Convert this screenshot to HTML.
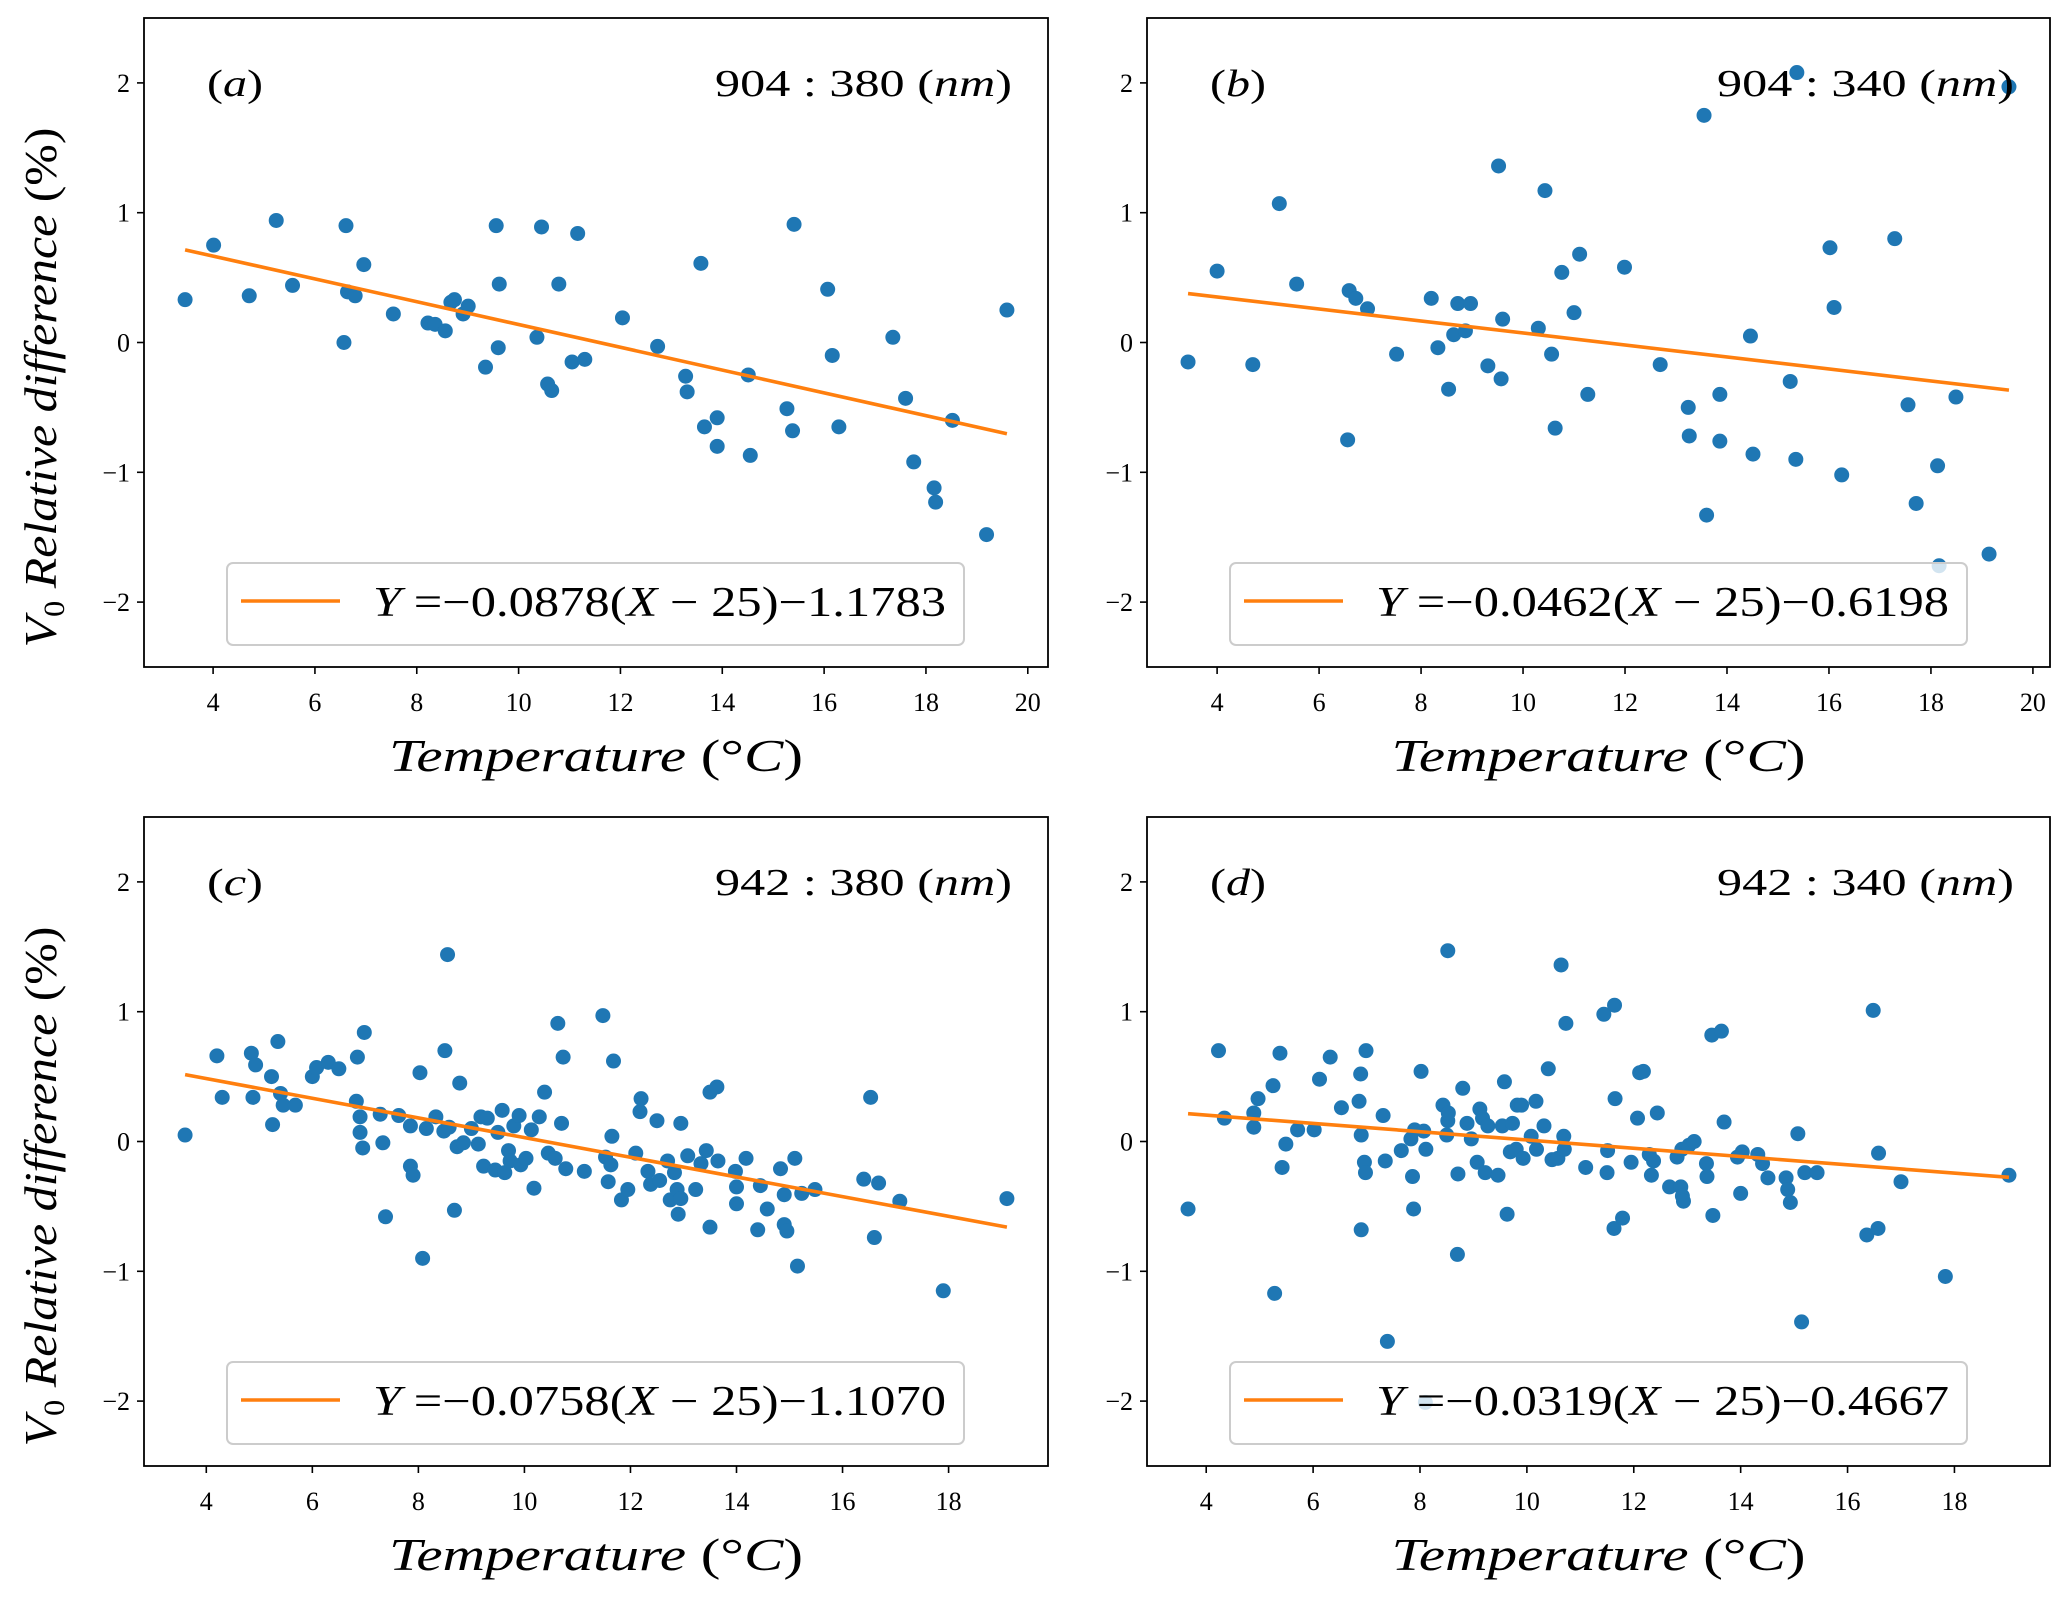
<!DOCTYPE html>
<html><head><meta charset="utf-8"><style>
body{margin:0;background:#fff}
svg{display:block;font-family:"Liberation Serif",serif}
</style></head><body>
<svg id="chart" width="2067" height="1603" viewBox="0 0 2067 1603" xmlns="http://www.w3.org/2000/svg"></svg>
<script>
const xA=[3.45,4.01,4.71,5.24,5.56,6.57,6.61,6.64,6.79,6.96,7.54,8.22,8.36,8.56,8.67,8.74,8.91,9.01,9.35,9.56,9.60,9.62,10.36,10.45,10.57,10.65,10.79,11.05,11.16,11.30,12.04,12.73,13.28,13.31,13.58,13.65,13.90,13.90,14.51,14.55,15.27,15.38,15.41,16.07,16.16,16.29,17.35,17.60,17.76,18.16,18.19,18.52,19.19,19.59];
const yA=[0.33,0.75,0.36,0.94,0.44,0.0,0.90,0.39,0.36,0.60,0.22,0.15,0.14,0.09,0.31,0.33,0.22,0.28,-0.19,0.90,-0.04,0.45,0.04,0.89,-0.32,-0.37,0.45,-0.15,0.84,-0.13,0.19,-0.03,-0.26,-0.38,0.61,-0.65,-0.58,-0.80,-0.25,-0.87,-0.51,-0.68,0.91,0.41,-0.10,-0.65,0.04,-0.43,-0.92,-1.12,-1.23,-0.60,-1.48,0.25];
const xB=[3.43,4.0,4.70,5.22,5.56,6.56,6.59,6.72,6.95,7.52,8.2,8.33,8.54,8.64,8.72,8.87,8.97,9.31,9.52,9.57,9.60,10.30,10.43,10.56,10.63,10.76,11.0,11.11,11.27,11.99,12.69,13.24,13.26,13.55,13.6,13.86,13.86,14.46,14.51,15.24,15.35,15.37,16.02,16.10,16.25,17.29,17.55,17.71,18.13,18.16,18.49,19.14,19.53];
const yB=[-0.15,0.55,-0.17,1.07,0.45,-0.75,0.40,0.34,0.26,-0.09,0.34,-0.04,-0.36,0.06,0.30,0.09,0.30,-0.18,1.36,-0.28,0.18,0.11,1.17,-0.09,-0.66,0.54,0.23,0.68,-0.40,0.58,-0.17,-0.50,-0.72,1.75,-1.33,-0.40,-0.76,0.05,-0.86,-0.30,-0.90,2.08,0.73,0.27,-1.02,0.80,-0.48,-1.24,-0.95,-1.72,-0.42,-1.63,1.97];
const xC=[3.6,4.2,4.3,4.85,4.88,4.93,5.23,5.25,5.35,5.40,5.45,5.68,6.0,6.08,6.3,6.5,6.83,6.85,6.9,6.9,6.95,6.98,7.28,7.33,7.38,7.63,7.85,7.85,7.9,8.03,8.08,8.15,8.33,8.48,8.5,8.55,8.58,8.68,8.73,8.78,8.85,9.0,9.13,9.18,9.23,9.3,9.45,9.5,9.58,9.63,9.7,9.73,9.8,9.9,9.93,10.03,10.13,10.18,10.28,10.38,10.45,10.58,10.63,10.7,10.73,10.78,11.13,11.48,11.53,11.58,11.63,11.65,11.68,11.83,11.95,12.1,12.18,12.2,12.33,12.38,12.5,12.55,12.7,12.75,12.83,12.88,12.9,12.95,12.95,13.08,13.23,13.33,13.43,13.5,13.5,13.63,13.65,13.98,14.0,14.0,14.18,14.4,14.45,14.58,14.83,14.9,14.9,14.95,15.1,15.15,15.23,15.48,16.4,16.53,16.6,16.68,17.08,17.9,19.1];
const yC=[0.05,0.66,0.34,0.68,0.34,0.59,0.50,0.13,0.77,0.37,0.28,0.28,0.50,0.57,0.61,0.56,0.31,0.65,0.07,0.19,-0.05,0.84,0.21,-0.01,-0.58,0.20,0.12,-0.19,-0.26,0.53,-0.90,0.10,0.19,0.08,0.70,1.44,0.11,-0.53,-0.04,0.45,-0.01,0.10,-0.02,0.19,-0.19,0.18,-0.22,0.07,0.24,-0.24,-0.07,-0.15,0.12,0.20,-0.18,-0.13,0.09,-0.36,0.19,0.38,-0.09,-0.13,0.91,0.14,0.65,-0.21,-0.23,0.97,-0.12,-0.31,-0.18,0.04,0.62,-0.45,-0.37,-0.09,0.23,0.33,-0.23,-0.33,0.16,-0.30,-0.15,-0.45,-0.24,-0.37,-0.56,0.14,-0.44,-0.11,-0.37,-0.17,-0.07,-0.66,0.38,0.42,-0.15,-0.23,-0.35,-0.48,-0.13,-0.68,-0.34,-0.52,-0.21,-0.41,-0.64,-0.69,-0.13,-0.96,-0.40,-0.37,-0.29,0.34,-0.74,-0.32,-0.46,-1.15,-0.44];
const xD=[3.66,4.23,4.34,4.89,4.89,4.97,5.25,5.28,5.38,5.42,5.49,5.71,6.02,6.12,6.32,6.53,6.86,6.89,6.9,6.9,6.96,6.98,6.99,7.31,7.35,7.39,7.65,7.83,7.86,7.88,7.9,8.02,8.07,8.11,8.1,8.43,8.5,8.52,8.52,8.53,8.7,8.71,8.8,8.88,8.96,9.07,9.12,9.17,9.22,9.27,9.46,9.54,9.58,9.63,9.69,9.73,9.8,9.82,9.9,9.93,10.08,10.17,10.18,10.32,10.4,10.47,10.58,10.64,10.69,10.7,10.73,11.1,11.44,11.5,11.51,11.63,11.64,11.65,11.79,11.95,12.07,12.11,12.18,12.29,12.33,12.37,12.44,12.67,12.81,12.88,12.9,12.91,12.93,13.03,13.13,13.36,13.37,13.46,13.48,13.64,13.69,13.94,14.0,14.03,14.32,14.41,14.51,14.85,14.88,14.93,15.07,15.14,15.2,15.43,16.36,16.48,16.57,16.58,17.0,17.83,19.02];
const yD=[-0.52,0.70,0.18,0.22,0.11,0.33,0.43,-1.17,0.68,-0.20,-0.02,0.09,0.09,0.48,0.65,0.26,0.31,0.52,0.05,-0.68,-0.16,-0.24,0.70,0.20,-0.15,-1.54,-0.07,0.02,-0.27,-0.52,0.09,0.54,0.08,-0.06,-2.01,0.28,0.05,1.47,0.16,0.22,-0.87,-0.25,0.41,0.14,0.02,-0.16,0.25,0.18,-0.24,0.12,-0.26,0.12,0.46,-0.56,-0.08,0.14,-0.06,0.28,0.28,-0.13,0.04,0.31,-0.06,0.12,0.56,-0.14,-0.13,1.36,0.04,-0.06,0.91,-0.20,0.98,-0.24,-0.07,-0.67,1.05,0.33,-0.59,-0.16,0.18,0.53,0.54,-0.10,-0.26,-0.15,0.22,-0.35,-0.12,-0.35,-0.06,-0.42,-0.46,-0.03,0.0,-0.17,-0.27,0.82,-0.57,0.85,0.15,-0.12,-0.40,-0.08,-0.10,-0.17,-0.28,-0.28,-0.37,-0.47,0.06,-1.39,-0.24,-0.24,-0.72,1.01,-0.67,-0.09,-0.31,-1.04,-0.26];
const slopes=[-0.0878,-0.0462,-0.0758,-0.0319];
const intercepts=[-1.1783,-0.6198,-1.1070,-0.4667];
const slopeLabels=["0.0878","0.0462","0.0758","0.0319"];
const interceptLabels=["1.1783","0.6198","1.1070","0.4667"];
const panelLetters=["a","b","c","d"];
const ratioLabels=["904 :  380","904 :  340","942 :  380","942 :  340"];
const xTicksTop=[4,6,8,10,12,14,16,18,20];
const xTicksBottom=[4,6,8,10,12,14,16,18];
const yTicks=[-2,-1,0,1,2];

const NS="http://www.w3.org/2000/svg";
const svg=document.getElementById('chart');
function mk(tag,attrs,parent,text){const e=document.createElementNS(NS,tag);for(const k in attrs)e.setAttribute(k,attrs[k]);if(text!==undefined)e.textContent=text;(parent||svg).appendChild(e);return e;}

const panels=[
 {L:144,R:1048,T:18,B:667,xs:xA,ys:yA,xt:xTicksTop},
 {L:1147,R:2050,T:18,B:667,xs:xB,ys:yB,xt:xTicksTop},
 {L:144,R:1048,T:817,B:1466,xs:xC,ys:yC,xt:xTicksBottom},
 {L:1147,R:2050,T:817,B:1466,xs:xD,ys:yD,xt:xTicksBottom}];

panels.forEach((p,i)=>{
 const xmin=Math.min(...p.xs),xmax=Math.max(...p.xs),m=(xmax-xmin)*0.05;
 const x0=xmin-m,x1=xmax+m;
 const X=v=>p.L+(v-x0)/(x1-x0)*(p.R-p.L);
 const Y=v=>p.B-(v+2.5)/5*(p.B-p.T);
 const g=mk('g',{});
 
 
 yTicks.forEach(t=>{
  const l=mk('line',{x1:p.L-7,x2:p.L,y1:Y(t),y2:Y(t),stroke:'#000','stroke-width':1.6},g);
  
  const tx=mk('text',{x:p.L-14,y:Y(t)+9,'text-anchor':'end','font-size':26},g,t<0?'\u2212'+(-t):String(t));
  
 });
 p.xt.forEach(t=>{
  const l=mk('line',{x1:X(t),x2:X(t),y1:p.B,y2:p.B+7,stroke:'#000','stroke-width':1.6},g);
  
  const tx=mk('text',{x:X(t),y:p.B+44,'text-anchor':'middle','font-size':26},g,String(t));
  
 });
 p.xs.forEach((xv,j)=>{
  const c=mk('circle',{cx:X(xv),cy:Y(p.ys[j]),r:7.5,fill:'#1f77b4'},g);
  
 });
 const f=v=>slopes[i]*(v-25)+intercepts[i];
 const fl=mk('line',{x1:X(xmin),y1:Y(f(xmin)),x2:X(xmax),y2:Y(f(xmax)),stroke:'#ff7f0e','stroke-width':3.6},g);
 
 const fr=mk('rect',{x:p.L,y:p.T,width:p.R-p.L,height:p.B-p.T,fill:'none',stroke:'#000','stroke-width':1.8},g);
 
 const pl=mk('text',{x:p.L+63,y:p.T+78,'font-size':38,textLength:56,lengthAdjust:'spacingAndGlyphs'},g);
 
 mk('tspan',{},pl,'(');mk('tspan',{'font-style':'italic'},pl,panelLetters[i]);mk('tspan',{},pl,')');
 const rl=mk('text',{x:p.R-333,y:p.T+78,'font-size':38,textLength:297,lengthAdjust:'spacingAndGlyphs','xml:space':'preserve'},g);
 
 mk('tspan',{},rl,ratioLabels[i]+' (');mk('tspan',{'font-style':'italic'},rl,'nm');mk('tspan',{},rl,')');
 const lg=mk('g',{},g);
 
 mk('rect',{x:p.L+83,y:p.T+545,width:737,height:82,rx:6,fill:'#fff','fill-opacity':0.8,stroke:'#ccc','stroke-width':2},lg);
 mk('line',{x1:p.L+97,x2:p.L+196,y1:p.T+583,y2:p.T+583,stroke:'#ff7f0e','stroke-width':3.6},lg);
 const lt=mk('text',{x:p.L+229,y:p.T+598,'font-size':42,textLength:573,lengthAdjust:'spacingAndGlyphs'},lg);
 mk('tspan',{'font-style':'italic'},lt,'Y');
 mk('tspan',{},lt,' =\u2212'+slopeLabels[i]+'(');
 mk('tspan',{'font-style':'italic'},lt,'X');
 mk('tspan',{},lt,' \u2212 25)\u2212'+interceptLabels[i]);
 const xl=mk('text',{x:(p.L+p.R)/2-207,y:p.B+104,'font-size':46,textLength:414,lengthAdjust:'spacingAndGlyphs'},g);
 
 mk('tspan',{'font-style':'italic'},xl,'Temperature');mk('tspan',{},xl,' (\u00b0');mk('tspan',{'font-style':'italic'},xl,'C');mk('tspan',{},xl,')');
 if(i%2===0){
  const cy=(p.T+p.B)/2+45;
  const yl=mk('text',{x:-260,y:0,'font-size':46,textLength:520,lengthAdjust:'spacingAndGlyphs',transform:`translate(56,${cy}) rotate(-90)`},g);
  
  mk('tspan',{'font-style':'italic'},yl,'V');
  mk('tspan',{'font-size':30,dy:8},yl,'0');
  mk('tspan',{'font-style':'italic',dy:-8},yl,' Relative difference');
  mk('tspan',{},yl,' (%)');
 }
});
</script>
</body></html>
